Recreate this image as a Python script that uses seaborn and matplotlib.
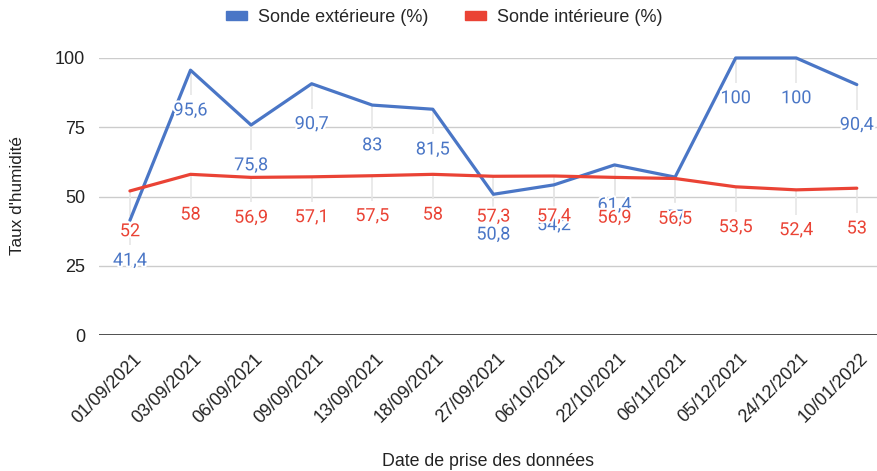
import numpy as np
import pandas as pd
import matplotlib
matplotlib.use("Agg")
import matplotlib.pyplot as plt
import matplotlib.patheffects as pe
import matplotlib.transforms as mtransforms
from matplotlib.patches import Patch
import seaborn as sns

dates = ["01/09/2021", "03/09/2021", "06/09/2021", "09/09/2021", "13/09/2021",
         "18/09/2021", "27/09/2021", "06/10/2021", "22/10/2021", "06/11/2021",
         "05/12/2021", "24/12/2021", "10/01/2022"]
exterieur = [41.4, 95.6, 75.8, 90.7, 83, 81.5, 50.8, 54.2, 61.4, 57, 100, 100, 90.4]
interieur = [52, 58, 56.9, 57.1, 57.5, 58, 57.3, 57.4, 56.9, 56.5, 53.5, 52.4, 53]
series_names = ["Sonde extérieure (%)", "Sonde intérieure (%)"]
colors = ["#4a76c6", "#ea4335"]

df = pd.DataFrame({
    "date": dates * 2,
    "valeur": exterieur + interieur,
    "sonde": [series_names[0]] * len(dates) + [series_names[1]] * len(dates),
})

sns.set_style("white")
plt.rcParams["font.family"] = ["Liberation Sans", "DejaVu Sans"]

fig = plt.figure(figsize=(8.78, 4.71), dpi=100)
ax = fig.add_axes([0.1128, 0.2887, 0.8872, 0.5882])

sns.lineplot(data=df, x="date", y="valeur", hue="sonde", palette=colors,
             linewidth=2.3, sort=False, legend=False, ax=ax, zorder=3)
for line in ax.lines:
    line.set_clip_on(False)

xs = np.arange(len(dates))
# short light stems under each point, like the original
for vals in [exterieur, interieur]:
    v = np.array(vals)
    ax.vlines(xs, v - 9, v, color="#e6e6e6", linewidth=1.2, zorder=1)

# data labels
for vals, col in zip([exterieur, interieur], colors):
    for i, v in enumerate(vals):
        txt = f"{v:g}".replace(".", ",")
        ax.annotate(txt, (i, v), xytext=(0, -29), textcoords="offset points",
                    ha="center", va="center", fontsize=13, color=col, zorder=5,
                    family=["Roboto", "DejaVu Sans"],
                    path_effects=[pe.withStroke(linewidth=3, foreground="white")])

ax.set_xlim(-0.51, 12.35)
ax.set_ylim(0, 100)
ax.set_yticks([0, 25, 50, 75, 100])
ax.grid(axis="y", color="#cccccc", linewidth=1)
ax.grid(axis="x", visible=False)
ax.axhline(0, color="#333333", linewidth=1.2, zorder=2)
for s in ax.spines.values():
    s.set_visible(False)

ax.tick_params(axis="y", length=0, labelsize=13, pad=10, labelcolor="#222222")
ax.tick_params(axis="x", length=0, labelsize=13, pad=6, labelcolor="#222222")
shift = mtransforms.ScaledTranslation(0.03, -0.07, fig.dpi_scale_trans)
for lab in ax.get_xticklabels():
    lab.set_rotation(45)
    lab.set_ha("right")
    lab.set_rotation_mode("anchor")
    lab.set_transform(lab.get_transform() + shift)

ax.set_xlabel("")
ax.set_ylabel("")
fig.text(0.556, 0.021, "Date de prise des données", ha="center", va="center",
         fontsize=12.8, color="#222222")
fig.text(0.02, 0.584, "Taux d'humidité", ha="center", va="center",
         rotation=90, fontsize=12.3, color="#222222")

handles = [Patch(color=c) for c in colors]
fig.legend(handles, series_names, loc="center", bbox_to_anchor=(0.506, 0.963),
           ncol=2, frameon=False, fontsize=13, handlelength=1.2, handleheight=0.45,
           handletextpad=0.6, columnspacing=2.0)

fig.savefig("out.png", dpi=100)
